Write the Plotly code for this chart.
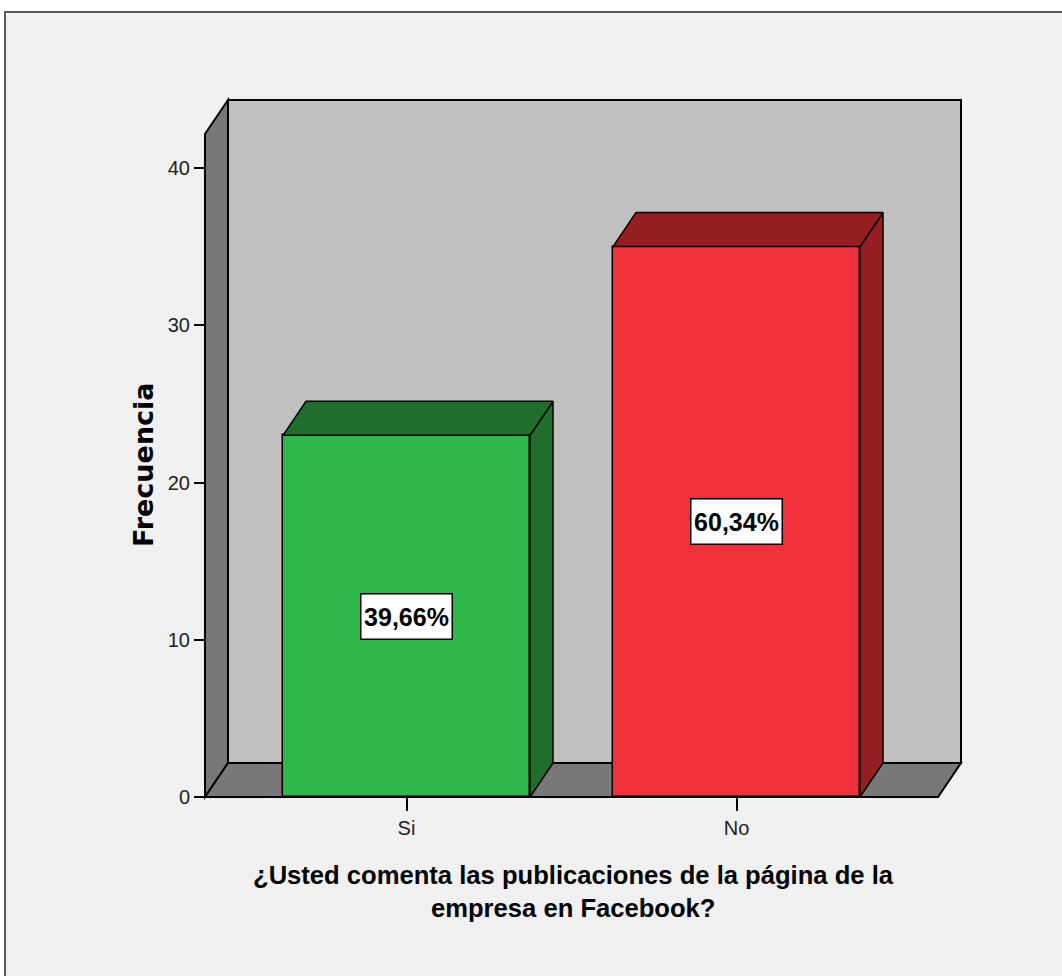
import plotly.graph_objects as go

# Survey answers and their frequencies
categories = ["Si", "No"]
counts = [23, 35]
y_ticks = [0, 10, 20, 30, 40]

front_colors = ["#2eb84b", "#f0313a"]
shade_colors = ["#1f6e2e", "#961e23"]

total = sum(counts)
pct_labels = [f"{c / total * 100:.2f}%".replace(".", ",") for c in counts]

# Figure geometry (pixels) and pseudo-3D depth
FIG_W, FIG_H = 1062, 976
M_L, M_R, M_T, M_B = 195, 92, 95, 171
PLOT_W = FIG_W - M_L - M_R
PLOT_H = FIG_H - M_T - M_B
X_RANGE = [-0.64091, 1.70758]
Y_RANGE = [-0.5087, 44.642]

BAR_W = 0.7485
DX, DY = 0.0697, 2.162          # depth offset in data units
WALL_L, WALL_R = -0.6106, 1.6106
WALL_TOP = 42.16

xs = list(range(len(categories)))

fig = go.Figure()

# Front faces of the bars
fig.add_trace(go.Bar(
    x=xs, y=counts, width=BAR_W,
    marker=dict(color=front_colors, line=dict(color="black", width=1.5)),
    hoverinfo="skip", showlegend=False,
))

# Side and top faces of each bar
for xi, v, shade in zip(xs, counts, shade_colors):
    xl, xr = xi - BAR_W / 2, xi + BAR_W / 2
    fig.add_trace(go.Scatter(
        x=[xr, xr, xr + DX, xr + DX, xr],
        y=[0, v, v + DY, DY, 0],
        fill="toself", fillcolor=shade, mode="lines",
        line=dict(color="black", width=1.5),
        hoverinfo="skip", showlegend=False,
    ))
    fig.add_trace(go.Scatter(
        x=[xl, xr, xr + DX, xl + DX, xl],
        y=[v, v, v + DY, v + DY, v],
        fill="toself", fillcolor=shade, mode="lines",
        line=dict(color="black", width=1.5),
        hoverinfo="skip", showlegend=False,
    ))


def px_to_paper_x(px):
    return (px - M_L) / PLOT_W


def px_to_paper_y(py):
    return (FIG_H - M_B - py) / PLOT_H


shapes = []
# Outer frame
shapes.append(dict(
    type="rect", xref="paper", yref="paper", layer="below",
    x0=px_to_paper_x(5), x1=px_to_paper_x(1080),
    y0=px_to_paper_y(995), y1=px_to_paper_y(12),
    fillcolor="#f0f0f0", line=dict(color="#5a5a5a", width=2),
))
# Back wall
shapes.append(dict(
    type="rect", xref="x", yref="y", layer="below",
    x0=WALL_L + DX, x1=WALL_R + DX, y0=DY, y1=WALL_TOP + DY,
    fillcolor="#c0c0c0", line=dict(color="black", width=2),
))
# Left side wall
shapes.append(dict(
    type="path", xref="x", yref="y", layer="below",
    path=(f"M {WALL_L},0 L {WALL_L},{WALL_TOP} L {WALL_L + DX},{WALL_TOP + DY} "
          f"L {WALL_L + DX},{DY} Z"),
    fillcolor="#787878", line=dict(color="black", width=2),
))
# Floor
shapes.append(dict(
    type="path", xref="x", yref="y", layer="below",
    path=(f"M {WALL_L},0 L {WALL_R},0 L {WALL_R + DX},{DY} "
          f"L {WALL_L + DX},{DY} Z"),
    fillcolor="#787878", line=dict(color="black", width=2),
))

annotations = []
for xi, v, lab in zip(xs, counts, pct_labels):
    annotations.append(dict(
        x=xi, y=v / 2, xref="x", yref="y", text=f"<b>{lab}</b>",
        xanchor="center", yanchor="middle",
        showarrow=False, bgcolor="white", bordercolor="black",
        borderwidth=1.5, borderpad=2, width=86, height=40,
        font=dict(family="Liberation Sans, Arial", size=25, color="black"),
    ))

annotations.append(dict(
    x=px_to_paper_x(143), y=px_to_paper_y(465), xref="paper", yref="paper",
    xanchor="center", yanchor="middle",
    text="<b>Frecuencia</b>", textangle=-90, showarrow=False,
    font=dict(family="DejaVu Sans", size=27, color="black"),
))
# Axis title on two lines
title_font = dict(family="Liberation Sans, Arial", size=25.6, color="black")
annotations.append(dict(
    x=px_to_paper_x(573), y=px_to_paper_y(874.5), xref="paper", yref="paper",
    xanchor="center", yanchor="middle", borderpad=0,
    text="<b>¿Usted comenta las publicaciones de la página de la</b>",
    showarrow=False, font=title_font,
))
annotations.append(dict(
    x=px_to_paper_x(573), y=px_to_paper_y(908), xref="paper", yref="paper",
    xanchor="center", yanchor="middle", borderpad=0,
    text="<b>empresa en Facebook?</b>",
    showarrow=False, font=title_font,
))

tick_font = dict(family="Liberation Sans, Arial", size=20, color="#222")

fig.update_layout(
    width=FIG_W, height=FIG_H,
    margin=dict(l=M_L, r=M_R, t=M_T, b=M_B, autoexpand=False),
    paper_bgcolor="white", plot_bgcolor="rgba(0,0,0,0)",
    shapes=shapes, annotations=annotations,
    xaxis=dict(
        range=X_RANGE, showgrid=False, zeroline=False, showline=False,
        tickvals=xs, ticktext=categories, ticks="outside", ticklen=13,
        tickwidth=1.5, tickcolor="black", tickfont=tick_font,
        anchor="free", position=px_to_paper_y(797),
    ),
    yaxis=dict(
        range=Y_RANGE, showgrid=False, zeroline=False, showline=False,
        tickvals=y_ticks, ticks="outside", ticklen=11,
        tickwidth=1.5, tickcolor="black", tickfont=tick_font,
        anchor="free", position=px_to_paper_x(205),
    ),
    bargap=0,
)

fig.write_html("out.html")
